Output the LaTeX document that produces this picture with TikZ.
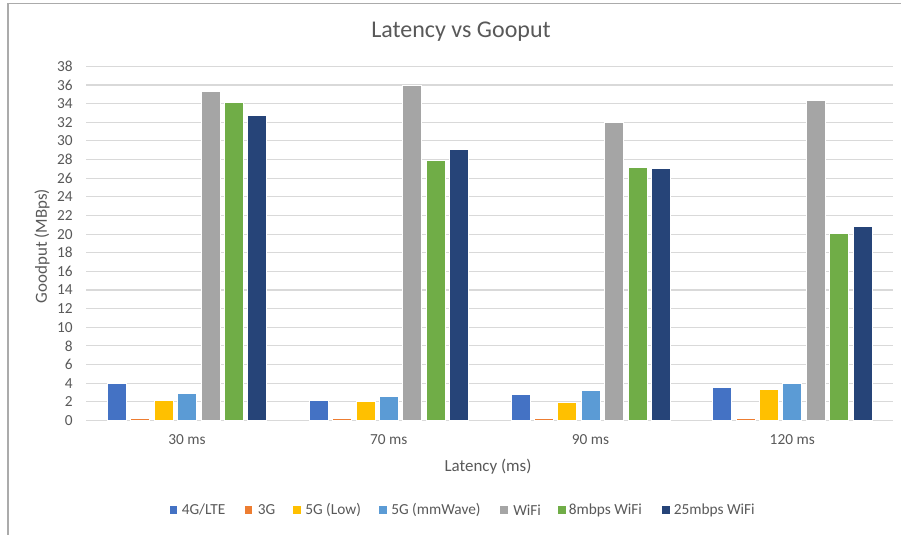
\documentclass[tikz,border=0pt]{standalone}
\usepackage{fontspec}
\setmainfont{Carlito}
\usetikzlibrary{positioning}

\definecolor{txtgray}{RGB}{89,89,89}
\definecolor{gridgray}{RGB}{217,217,217}
\definecolor{framegray}{RGB}{171,171,171}
\definecolor{lte}{RGB}{68,114,196}
\definecolor{threeg}{RGB}{237,125,49}
\definecolor{fivelow}{RGB}{255,192,0}
\definecolor{fivemm}{RGB}{91,155,213}
\definecolor{wifi}{RGB}{165,165,165}
\definecolor{wifieight}{RGB}{112,173,71}
\definecolor{wifitwentyfive}{RGB}{38,68,120}

\tikzset{
  lbl/.style={text=txtgray, inner sep=0pt, font=\fontsize{11.5}{13}\selectfont},
  ticklbl/.style={lbl, anchor=east},
  axtitle/.style={text=txtgray, inner sep=0pt, font=\fontsize{12.7}{15}\selectfont},
  charttitle/.style={text=txtgray, inner sep=0pt, font=\fontsize{18}{21}\selectfont},
  gridline/.style={draw=gridgray, line width=0.8pt},
  gpbar/.style={draw=white, line width=0.4pt},
  legsq/.style={inner sep=0pt, minimum width=5.6pt, minimum height=6.2pt},
  legtxt/.style={lbl, anchor=west}
}

\begin{document}
\begin{tikzpicture}[x=0.75pt,y=-0.75pt]
  \useasboundingbox (0,0) rectangle (901,535);
  \fill[white] (0,0) rectangle (901,535);
  \draw[framegray, line width=1.1pt] (8,535) -- (8,3.5) -- (901,3.5);

  % title
  \node[charttitle] (title) at (461,32) {Latency vs Gooput};

  % grid and y ticks
  \foreach \v in {0,2,...,38}
  {
    \draw[gridline] (86,{420.5-9.32*\v}) -- (893,{420.5-9.32*\v});
    \node[ticklbl] (y\v) at (73,{420.5-9.32*\v}) {\v};
  }

  % bars, one group per latency
  \foreach \cx/\va/\vb/\vc/\vd/\ve/\vf/\vg in {
      187/4.0/0.25/2.2/2.9/35.3/34.1/32.8,
      388.75/2.2/0.25/2.1/2.6/36.0/27.9/29.1,
      590.5/2.8/0.25/1.95/3.2/32.0/27.2/27.1,
      792.25/3.6/0.25/3.35/4.0/34.4/20.1/20.8}
  {
    \filldraw[gpbar, fill=lte] ({\cx-79.7},420.5) rectangle ({\cx-60.7},{420.5-9.32*\va});
    \filldraw[gpbar, fill=threeg] ({\cx-56.3},420.5) rectangle ({\cx-37.3},{420.5-9.32*\vb});
    \filldraw[gpbar, fill=fivelow] ({\cx-32.9},420.5) rectangle ({\cx-13.9},{420.5-9.32*\vc});
    \filldraw[gpbar, fill=fivemm] ({\cx-9.5},420.5) rectangle ({\cx+9.5},{420.5-9.32*\vd});
    \filldraw[gpbar, fill=wifi] ({\cx+13.9},420.5) rectangle ({\cx+32.9},{420.5-9.32*\ve});
    \filldraw[gpbar, fill=wifieight] ({\cx+37.3},420.5) rectangle ({\cx+56.3},{420.5-9.32*\vf});
    \filldraw[gpbar, fill=wifitwentyfive] ({\cx+60.7},420.5) rectangle ({\cx+79.7},{420.5-9.32*\vg});
  }

  % x ticks
  \node[lbl] (x30) at (187,440) {30 ms};
  \node[lbl] (x70) at (388.75,440) {70 ms};
  \node[lbl] (x90) at (590.5,440) {90 ms};
  \node[lbl] (x120) at (792.25,440) {120 ms};

  % axis titles
  \node[axtitle] (xtitle) at (488,467) {Latency (ms)};
  \node[axtitle, rotate=90] (ytitle) at (42,246) {Goodput (MBps)};

  % legend
  \node[legsq, fill=lte] (sq1) at (173.7,510) {};
  \node[legtxt] (lg1) at (181.5,510) {4G/LTE};
  \node[legsq, fill=threeg] (sq2) at (248.7,510) {};
  \node[legtxt] (lg2) at (257.5,510) {3G};
  \node[legsq, fill=fivelow] (sq3) at (297,510) {};
  \node[legtxt] (lg3) at (305,510) {5G (Low)};
  \node[legsq, fill=fivemm] (sq4) at (383,510) {};
  \node[legtxt] (lg4) at (391,510) {5G (mmWave)};
  \node[legsq, fill=wifi] (sq5) at (503.8,510) {};
  \node[legtxt] (lg5) at (513,510) {WiFi};
  \node[legsq, fill=wifieight] (sq6) at (562,510) {};
  \node[legtxt] (lg6) at (568.5,510) {8mbps WiFi};
  \node[legsq, fill=wifitwentyfive] (sq7) at (666,510) {};
  \node[legtxt] (lg7) at (673.5,510) {25mbps WiFi};
\end{tikzpicture}
\end{document}
